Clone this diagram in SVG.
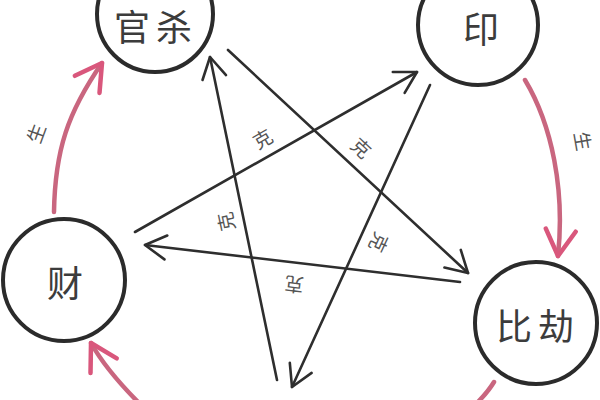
<svg xmlns="http://www.w3.org/2000/svg" width="600" height="400" viewBox="0 0 600 400">
  <style>
    .node circle { fill: #ffffff; stroke: #2b2b2b; stroke-width: 4; }
    .node text { font-family: "Noto Sans CJK SC", "Noto Sans", sans-serif; font-size: 36px; fill: #3c3c3c; text-anchor: middle; dominant-baseline: central; }
    .ke { stroke: #2e2e2e; stroke-width: 2.6; fill: none; stroke-linecap: round; marker-end: url(#blackHead); }
    .sheng { stroke: #c9667f; stroke-width: 4.5; fill: none; stroke-linecap: round; }
    .lbl { font-family: "Noto Sans CJK SC", "Noto Sans", sans-serif; font-size: 19px; fill: #555555; text-anchor: middle; dominant-baseline: central; }
  </style>
  <defs>
    <marker id="blackHead" markerUnits="userSpaceOnUse" viewBox="0 0 28 28" markerWidth="28" markerHeight="28" refX="24" refY="14" orient="auto" overflow="visible">
      <path d="M3,2 L24,14 L3,26" fill="none" stroke="#2e2e2e" stroke-width="2.6" stroke-linecap="round" stroke-linejoin="round"/>
    </marker>
    <marker id="pinkHead" markerUnits="userSpaceOnUse" viewBox="0 0 34 34" markerWidth="34" markerHeight="34" refX="30" refY="17" orient="auto" overflow="visible">
      <path d="M4,2 L30,17 L4,32" fill="none" stroke="#d9577c" stroke-width="4.5" stroke-linecap="round" stroke-linejoin="round"/>
    </marker>
  </defs>
  <rect width="600" height="400" fill="#ffffff"/>

  <g id="connectors">
    <!-- 生 (generating) arcs -->
    <path class="sheng" d="M54,212 C55,150 68,112 102,63" marker-end="url(#pinkHead)"/>
    <path class="sheng" d="M525,80 C552,125 565,190 558,256" marker-end="url(#pinkHead)"/>
    <path class="sheng" d="M140,404 Q106,370 91,343" marker-end="url(#pinkHead)"/>
    <path class="sheng" d="M494,382 Q488,392 476,404"/>
    <!-- 克 (controlling) lines -->
    <line class="ke" x1="228" y1="50" x2="468" y2="273"/>
    <line class="ke" x1="135" y1="232" x2="417" y2="72"/>
    <line class="ke" x1="460" y1="282" x2="145" y2="245"/>
    <line class="ke" x1="277" y1="380" x2="210" y2="57"/>
    <line class="ke" x1="430" y1="85" x2="292" y2="387"/>
    <!-- labels -->
    <text class="lbl" transform="translate(35,133) rotate(-70)">生</text>
    <text class="lbl" transform="translate(584,141) rotate(80)">生</text>
    <text class="lbl" transform="translate(262,138) rotate(-30)">克</text>
    <text class="lbl" transform="translate(362,147) rotate(43)">克</text>
    <text class="lbl" transform="translate(225,222) rotate(-102)">克</text>
    <text class="lbl" transform="translate(380,243) rotate(115)">克</text>
    <text class="lbl" transform="translate(294,286) rotate(187)">克</text>
  </g>

  <g id="guansha" class="node">
    <circle cx="155" cy="14" r="58"/>
    <text x="156" y="25" font-size="33" letter-spacing="6">官杀</text>
  </g>
  <g id="yin" class="node">
    <circle cx="478" cy="25" r="60"/>
    <text x="481" y="27">印</text>
  </g>
  <g id="cai" class="node">
    <circle cx="64" cy="280" r="61"/>
    <text x="65" y="281">财</text>
  </g>
  <g id="bijie" class="node">
    <circle cx="536" cy="323" r="61"/>
    <text x="538" y="324" letter-spacing="6">比劫</text>
  </g>
</svg>
